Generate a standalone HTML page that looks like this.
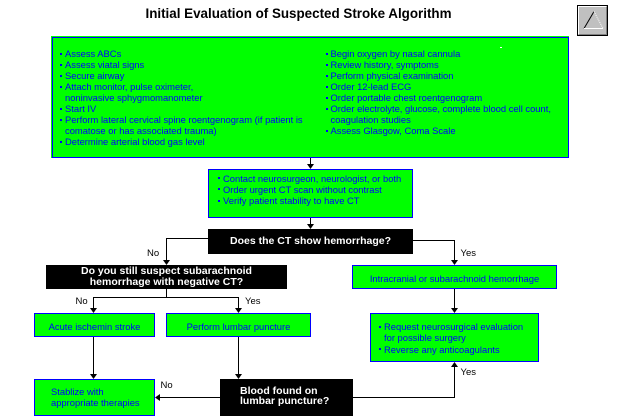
<!DOCTYPE html>
<html>
<head>
<meta charset="utf-8">
<style>
  html,body{margin:0;padding:0;background:#fff;}
  body{width:620px;height:420px;position:relative;overflow:hidden;font-family:"Liberation Sans",Arial,sans-serif;}
  .abs{position:absolute;}
  .g{background:#00ff00;border:1px solid #0000ff;box-sizing:border-box;position:absolute;}
  .k{background:#000;position:absolute;box-sizing:border-box;}
  .bt{color:#0000ff;font-size:9.4px;line-height:11px;white-space:nowrap;}
  .wt{color:#fff;font-size:10.5px;font-weight:bold;line-height:11px;white-space:nowrap;}
  .lbl{position:absolute;color:#000;font-size:9.5px;line-height:11px;white-space:nowrap;}
  .list{position:absolute;color:#0000ff;font-size:9.4px;white-space:nowrap;}
  .list div{position:relative;padding-left:5px;}
  .list div::before{content:"";position:absolute;left:0;top:4.5px;width:2px;height:2px;background:#0000ff;}
  .ctr{position:absolute;left:0;right:0;text-align:center;}
</style>
</head>
<body>

<!-- Title -->
<div class="abs" style="left:0;width:597px;top:5px;text-align:center;font-size:13.4px;font-weight:bold;line-height:18px;color:#000;">Initial Evaluation of Suspected Stroke Algorithm</div>

<!-- Button -->
<div class="abs" style="left:577px;top:5px;width:31px;height:31px;box-sizing:border-box;border:1px solid #000;background:#c0c0c0;">
  <div class="abs" style="left:0;top:0;right:0;bottom:0;border-top:1px solid #fff;border-left:1px solid #fff;border-right:1px solid #808080;border-bottom:1px solid #808080;"></div>
</div>
<svg class="abs" style="left:0;top:0;" width="620" height="420">
  <line x1="584" y1="28.5" x2="594" y2="11.5" stroke="#000" stroke-width="1"/>
  <line x1="594" y1="11.5" x2="603" y2="28.5" stroke="#fff" stroke-width="1" stroke-dasharray="1,1"/>
  <line x1="584" y1="28.5" x2="603" y2="28.5" stroke="#fff" stroke-width="1"/>
</svg>

<!-- Big box -->
<div class="abs" style="left:51px;top:36px;width:518px;height:122px;background:#00ff00;"></div>
<div class="g" style="left:52px;top:37px;width:517px;height:121px;"></div>
<div class="abs" style="left:500px;top:47px;width:2px;height:1px;background:#fff;"></div>

<div class="list" style="left:60px;top:48px;line-height:11px;">
  <div>Assess ABCs</div>
  <div>Assess viatal signs</div>
  <div>Secure airway</div>
  <div>Attach monitor, pulse oximeter,<br>noninvasive sphygmomanometer</div>
  <div>Start IV</div>
  <div>Perform lateral cervical spine roentgenogram (if patient is<br>comatose or has associated trauma)</div>
  <div>Determine arterial blood gas level</div>
</div>

<div class="list" style="left:325.5px;top:48px;line-height:11px;">
  <div>Begin oxygen by nasal cannula</div>
  <div>Review history, symptoms</div>
  <div>Perform physical examination</div>
  <div>Order 12-lead ECG</div>
  <div>Order portable chest roentgenogram</div>
  <div>Order electrolyte, glucose, complete blood cell count,<br>coagulation studies</div>
  <div>Assess Glasgow, Coma Scale</div>
</div>

<!-- Contact box -->
<div class="g" style="left:208px;top:169px;width:205px;height:49px;"></div>
<div class="list" style="left:218px;top:172.6px;line-height:11.35px;">
  <div>Contact neurosurgeon, neurologist, or both</div>
  <div>Order urgent CT scan without contrast</div>
  <div>Verify patient stability to have CT</div>
</div>

<!-- Decision 1 -->
<div class="k" style="left:208px;top:229px;width:205px;height:25px;">
  <div class="ctr wt" style="top:6.5px;">Does the CT show hemorrhage?</div>
</div>

<!-- Subarachnoid decision -->
<div class="k" style="left:46px;top:265px;width:241px;height:24px;">
  <div class="ctr wt" style="top:1.2px;">Do you still suspect subarachnoid<br>hemorrhage with negative CT?</div>
</div>

<!-- Intracranial -->
<div class="g" style="left:352px;top:265px;width:205px;height:24px;">
  <div class="ctr bt" style="top:6.5px;">Intracranial or subarachnoid hemorrhage</div>
</div>

<!-- Acute -->
<div class="g" style="left:34px;top:313px;width:121px;height:24px;">
  <div class="ctr bt" style="top:6.5px;">Acute ischemin stroke</div>
</div>

<!-- Perform lumbar -->
<div class="g" style="left:166px;top:313px;width:145px;height:24px;">
  <div class="ctr bt" style="top:6.5px;">Perform lumbar puncture</div>
</div>

<!-- Request box -->
<div class="g" style="left:370px;top:313px;width:169px;height:49px;"></div>
<div class="list" style="left:379px;top:321px;line-height:11.3px;">
  <div>Request neurosurgical evaluation<br>for possible surgery</div>
  <div>Reverse any anticoagulants</div>
</div>

<!-- Stabilize -->
<div class="g" style="left:34px;top:379px;width:121px;height:37px;">
  <div class="abs bt" style="left:16px;top:6.2px;">Stablize with<br>appropriate therapies</div>
</div>

<!-- Blood decision -->
<div class="k" style="left:220px;top:379px;width:133px;height:37px;">
  <div class="abs wt" style="left:20px;top:6.5px;line-height:10.8px;">Blood found on<br>lumbar puncture?</div>
</div>

<!-- Labels -->
<div class="lbl" style="left:147px;top:248px;">No</div>
<div class="lbl" style="left:460.5px;top:248px;">Yes</div>
<div class="lbl" style="left:75.5px;top:296px;">No</div>
<div class="lbl" style="left:245px;top:296px;">Yes</div>
<div class="lbl" style="left:160.5px;top:380px;">No</div>
<div class="lbl" style="left:460.5px;top:367px;">Yes</div>

<!-- Connectors -->
<svg class="abs" style="left:0;top:0;" width="620" height="420">
  <g stroke="#000" stroke-width="1" fill="none">
    <line x1="310.5" y1="158" x2="310.5" y2="166"/>
    <line x1="310.5" y1="218" x2="310.5" y2="226"/>
    <polyline points="208,238.5 166.5,238.5 166.5,262"/>
    <polyline points="413,240.5 454.5,240.5 454.5,262"/>
    <line x1="166.5" y1="289" x2="166.5" y2="297.5"/>
    <polyline points="93.5,310 93.5,297.5 238.5,297.5 238.5,310"/>
    <line x1="93.5" y1="337" x2="93.5" y2="376"/>
    <line x1="238.5" y1="337" x2="238.5" y2="376"/>
    <line x1="454.5" y1="289" x2="454.5" y2="310"/>
    <line x1="220" y1="397.5" x2="158" y2="397.5"/>
    <polyline points="353,397.5 454.5,397.5 454.5,365"/>
  </g>
  <g fill="#000">
    <polygon points="307,164 314,164 310.5,169"/>
    <polygon points="307,224 314,224 310.5,229"/>
    <polygon points="163,260 170,260 166.5,265"/>
    <polygon points="451,260 458,260 454.5,265"/>
    <polygon points="90,308 97,308 93.5,313"/>
    <polygon points="235,308 242,308 238.5,313"/>
    <polygon points="451,308 458,308 454.5,313"/>
    <polygon points="90,374 97,374 93.5,379"/>
    <polygon points="235,374 242,374 238.5,379"/>
    <polygon points="160,394 160,401 155,397.5"/>
    <polygon points="451,367 458,367 454.5,362"/>
  </g>
</svg>

</body>
</html>
